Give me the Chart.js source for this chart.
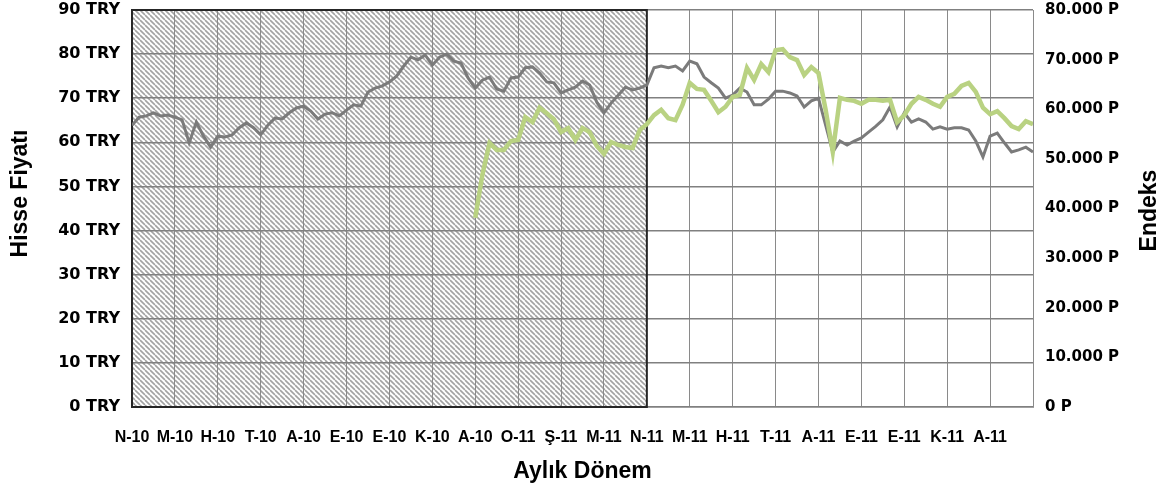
<!DOCTYPE html>
<html lang="tr">
<head>
<meta charset="utf-8">
<title>Hisse Fiyatı ve Endeks</title>
<script src="https://cdn.jsdelivr.net/npm/chart.js@4.4.1/dist/chart.umd.min.js"></script>
<style>
    html, body { margin: 0; padding: 0; background: #ffffff; }
    #grafica { display: block; }
</style>
</head>
<body>
<canvas id="grafica" width="1169" height="491"></canvas>
<script>
// Etiquetas de los meses (eje X)
const etiquetasMeses = ['N-10', 'M-10', 'H-10', 'T-10', 'A-10', 'E-10', 'E-10', 'K-10', 'A-10', 'O-11', 'Ş-11',
    'M-11', 'N-11', 'M-11', 'H-11', 'T-11', 'A-11', 'E-11', 'E-11', 'K-11', 'A-11', ''];

// Muestras por mes y mes en que empieza la serie del endeks
const muestrasPorMes = 6;
const mesInicioEndeks = 8;
const mesFinSombreado = 12; // zona rayada hasta N-11

// Precio de la acción (TRY)
const valoresHisse = [
    63.9, 65.7, 66.0, 66.7, 66.0, 66.2, 65.7, 65.1, 59.9, 64.6,
    61.4, 58.9, 61.4, 61.2, 61.7, 63.3, 64.4, 63.3, 61.7, 63.9,
    65.5, 65.3, 66.7, 67.8, 68.2, 67.1, 65.3, 66.4, 66.7, 66.0,
    67.3, 68.5, 68.2, 71.4, 72.3, 72.8, 73.7, 75.0, 77.3, 79.3,
    78.7, 79.8, 77.5, 79.3, 80.0, 78.4, 78.0, 74.6, 72.3, 74.1,
    74.8, 72.1, 71.6, 74.6, 74.8, 76.9, 77.1, 75.7, 73.7, 73.5,
    71.2, 71.9, 72.5, 73.9, 73.0, 69.1, 66.7, 68.9, 70.7, 72.5,
    71.9, 72.3, 73.0, 76.9, 77.3, 76.9, 77.3, 76.2, 78.4, 77.8,
    74.8, 73.5, 72.3, 70.0, 70.7, 72.3, 71.4, 68.5, 68.5, 69.8,
    71.6, 71.6, 71.2, 70.5, 68.0, 69.4, 70.0, 63.9, 57.8, 60.3,
    59.4, 60.3, 61.0, 62.3, 63.6, 65.1, 68.0, 63.5, 66.7, 64.6,
    65.3, 64.6, 63.0, 63.5, 63.0, 63.3, 63.3, 62.8, 60.3, 56.7,
    61.4, 62.1, 59.9, 57.8, 58.3, 58.9, 57.8
];

// Endeks (puan)
const valoresEndeks = [
    38100, 46800, 53200, 51800, 51800, 53600, 53800, 58400, 57400, 60300,
    59200, 58000, 55400, 56200, 53800, 56200, 55400, 52600, 51000, 53400,
    52800, 52400, 52200, 55800, 57000, 58800, 59900, 58200, 57800, 60900,
    65300, 64100, 63900, 61700, 59400, 60500, 62500, 62900, 68300, 65900,
    69100, 67500, 71900, 72100, 70500, 69900, 66900, 68500, 67300, 59900,
    51400, 62300, 61900, 61700, 61100, 61900, 61900, 61700, 61900, 57400,
    58800, 61100, 62500, 61900, 61100, 60500, 62500, 63100, 64700, 65300,
    63500, 60300, 59000, 59600, 58200, 56600, 56000, 57600, 57000
];

const puntosHisse = valoresHisse.map((v, i) => ({ x: i / muestrasPorMes, y: v }));
const puntosEndeks = valoresEndeks.map((v, i) => ({ x: mesInicioEndeks + i / muestrasPorMes, y: v }));

function formatoMiles(v) {
    return String(v).replace(/\B(?=(\d{3})+(?!\d))/g, '.');
}

// Patrón rayado diagonal
function crearRayado() {
    const t = 5;
    const c = document.createElement('canvas');
    c.width = t;
    c.height = t;
    const g = c.getContext('2d');
    g.fillStyle = '#ffffff';
    g.fillRect(0, 0, t, t);
    g.strokeStyle = '#a3a3a3';
    g.lineWidth = 1.6;
    g.beginPath();
    for (let k = -1; k <= 1; k++) {
        g.moveTo(k * t, 0);
        g.lineTo(k * t + t, t);
    }
    g.stroke();
    return g.createPattern(c, 'repeat');
}

const fuenteTitulo = '"Liberation Sans", Arial, sans-serif';

// quita el margen extra que Chart.js reserva para las etiquetas de los extremos
function sinRelleno(s) {
    s.paddingTop = 0;
    s.paddingBottom = 0;
    s.paddingLeft = 0;
    s.paddingRight = 0;
}

const pluginSombreado = {
    id: 'sombreado',
    beforeDraw(chart) {
        const ctx = chart.ctx;
        const xs = chart.scales.x;
        const area = chart.chartArea;
        const x0 = xs.getPixelForValue(0);
        const x1 = xs.getPixelForValue(mesFinSombreado);
        ctx.save();
        ctx.fillStyle = crearRayado();
        ctx.fillRect(x0, area.top, x1 - x0, area.bottom - area.top);
        ctx.restore();
    },
    beforeDatasetsDraw(chart) {
        const ctx = chart.ctx;
        const xs = chart.scales.x;
        const area = chart.chartArea;
        const x0 = xs.getPixelForValue(0);
        const x1 = xs.getPixelForValue(mesFinSombreado);
        ctx.save();
        ctx.strokeStyle = '#262626';
        ctx.lineWidth = 2;
        ctx.strokeRect(x0, area.top, x1 - x0, area.bottom - area.top);
        ctx.restore();
    },
    afterDraw(chart) {
        // títulos verticales, los dos leídos de abajo hacia arriba
        const ctx = chart.ctx;
        const area = chart.chartArea;
        const titulos = [
            { texto: 'Hisse Fiyatı', x: chart.scales.y.left + 21, y: (area.top + area.bottom) / 2 - 15 },
            { texto: 'Endeks', x: chart.scales.y1.right - 19, y: (area.top + area.bottom) / 2 + 2 }
        ];
        ctx.save();
        ctx.fillStyle = '#000000';
        ctx.font = 'bold 23px ' + fuenteTitulo;
        ctx.textAlign = 'center';
        ctx.textBaseline = 'middle';
        titulos.forEach(t => {
            ctx.save();
            ctx.translate(t.x, t.y);
            ctx.rotate(-Math.PI / 2);
            ctx.fillText(t.texto, 0, 0);
            ctx.restore();
        });
        ctx.restore();
    }
};

const ctx = document.getElementById('grafica').getContext('2d');
new Chart(ctx, {
    type: 'line',
    data: {
        datasets: [
            {
                label: 'Hisse Fiyatı',
                data: puntosHisse,
                yAxisID: 'y',
                borderColor: '#7b7b7b',
                borderWidth: 3,
                pointRadius: 0,
                tension: 0,
                order: 2
            },
            {
                label: 'Endeks',
                data: puntosEndeks,
                yAxisID: 'y1',
                borderColor: '#b9d282',
                borderWidth: 4.5,
                pointRadius: 0,
                tension: 0,
                order: 1
            }
        ]
    },
    options: {
        responsive: false,
        animation: false,
        devicePixelRatio: 1,
        layout: { padding: { top: 10, left: 0, right: 0, bottom: 0 } },
        plugins: {
            legend: { display: false },
            tooltip: { enabled: false }
        },
        scales: {
            x: {
                type: 'linear',
                min: 0,
                max: etiquetasMeses.length - 1,
                afterFit: s => { s.height = 84; sinRelleno(s); },
                ticks: {
                    stepSize: 1,
                    autoSkip: false,
                    maxRotation: 0,
                    padding: 21,
                    color: '#000000',
                    font: { family: fuenteTitulo, size: 16, weight: 'bold' },
                    callback: v => etiquetasMeses[v]
                },
                grid: { color: '#8a8a8a', lineWidth: 1, drawTicks: false },
                border: { color: '#a0a0a0', width: 1 },
                title: { display: true, text: 'Aylık Dönem', color: '#000000', font: { family: fuenteTitulo, size: 23, weight: 'bold' }, padding: 6 }
            },
            y: {
                position: 'left',
                min: 0,
                max: 90,
                afterFit: s => { s.width = 132; sinRelleno(s); },
                ticks: {
                    stepSize: 10,
                    padding: 12,
                    color: '#000000',
                    font: { family: '"DejaVu Sans", Verdana, sans-serif', size: 16, weight: 'bold' },
                    callback: v => v + ' TRY'
                },
                grid: { color: '#808080', lineWidth: 1.5, drawTicks: false },
                border: { color: '#262626', width: 2 }
            },
            y1: {
                position: 'right',
                min: 0,
                max: 80000,
                afterFit: s => { s.width = 136; sinRelleno(s); },
                ticks: {
                    stepSize: 10000,
                    padding: 12,
                    color: '#000000',
                    font: { family: '"DejaVu Sans", Verdana, sans-serif', size: 15, weight: 'bold' },
                    callback: v => formatoMiles(v) + ' P'
                },
                grid: { drawOnChartArea: false, drawTicks: false },
                border: { display: false }
            }
        }
    },
    plugins: [pluginSombreado]
});
</script>
</body>
</html>
